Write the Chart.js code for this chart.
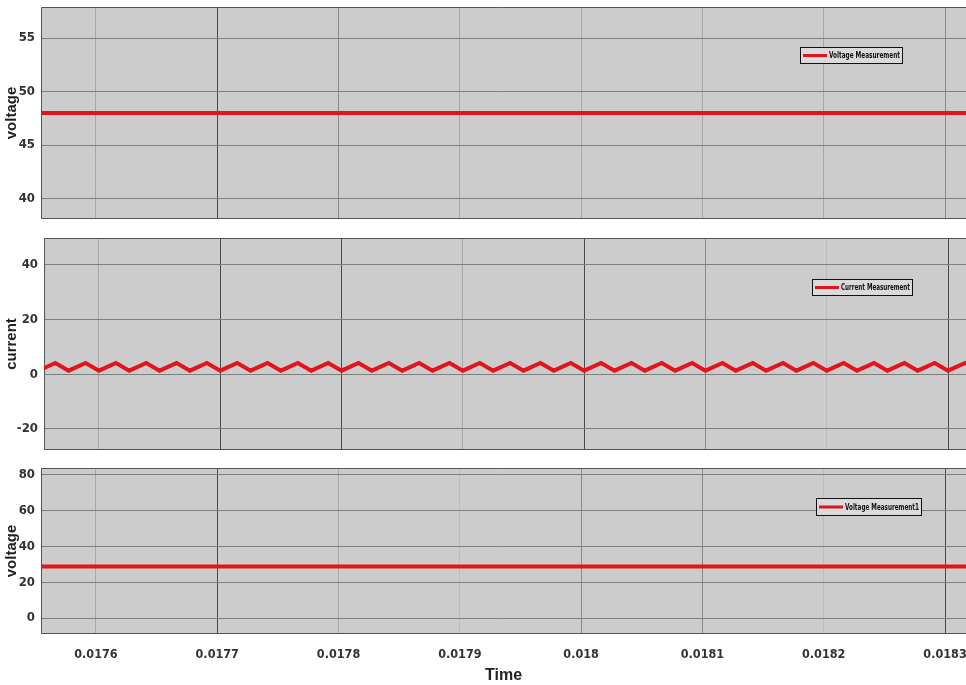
<!DOCTYPE html>
<html>
<head>
<meta charset="utf-8">
<script src="https://cdn.jsdelivr.net/npm/chart.js@4.4.0/dist/chart.umd.min.js"></script>
<style>
html, body { margin: 0; padding: 0; background: #fff; }
body { width: 966px; height: 685px; position: relative; overflow: hidden; }
.panel { position: absolute; left: 0; width: 966px; }
</style>
</head>
<body>
<div class="panel" style="top:0;height:229px"><canvas id="voltageChart"></canvas></div>
<div class="panel" style="top:229px;height:229px"><canvas id="currentChart"></canvas></div>
<div class="panel" style="top:458px;height:227px"><canvas id="voltage1Chart"></canvas></div>
<script>
// Time axis (s)
const xTickValues = [0.0176, 0.0177, 0.0178, 0.0179, 0.018, 0.0181, 0.0182, 0.0183];
const xTickLabels = ['0.0176', '0.0177', '0.0178', '0.0179', '0.018', '0.0181', '0.0182', '0.0183'];
const timeRange = [0.0175547, 0.0183173];
const midTimeRange = [0.0175547, 0.0183148];

// Voltage Measurement
const voltageTime = [0.0175547, 0.0183173];
const voltageValues = [48, 48];
const voltageTicks = [40, 45, 50, 55];

const currentTime = [
    0.017550, 0.017564, 0.017575, 0.017589, 0.017600, 0.017614, 0.017625, 0.017639,
    0.017650, 0.017664, 0.017675, 0.017689, 0.017700, 0.017714, 0.017725, 0.017739,
    0.017750, 0.017764, 0.017775, 0.017789, 0.017800, 0.017814, 0.017825, 0.017839,
    0.017850, 0.017864, 0.017875, 0.017889, 0.017900, 0.017914, 0.017925, 0.017939,
    0.017950, 0.017964, 0.017975, 0.017989, 0.018000, 0.018014, 0.018025, 0.018039,
    0.018050, 0.018064, 0.018075, 0.018089, 0.018100, 0.018114, 0.018125, 0.018139,
    0.018150, 0.018164, 0.018175, 0.018189, 0.018200, 0.018214, 0.018225, 0.018239,
    0.018250, 0.018264, 0.018275, 0.018289, 0.018300, 0.018314, 0.018325
];
const currentValues = [
    1.3, 4.1, 1.3, 4.1, 1.3, 4.1, 1.3, 4.1,
    1.3, 4.1, 1.3, 4.1, 1.3, 4.1, 1.3, 4.1,
    1.3, 4.1, 1.3, 4.1, 1.3, 4.1, 1.3, 4.1,
    1.3, 4.1, 1.3, 4.1, 1.3, 4.1, 1.3, 4.1,
    1.3, 4.1, 1.3, 4.1, 1.3, 4.1, 1.3, 4.1,
    1.3, 4.1, 1.3, 4.1, 1.3, 4.1, 1.3, 4.1,
    1.3, 4.1, 1.3, 4.1, 1.3, 4.1, 1.3, 4.1,
    1.3, 4.1, 1.3, 4.1, 1.3, 4.1, 1.3
];
const currentTicks = [-20, 0, 20, 40];

// Voltage Measurement1
const voltage1Time = [0.0175547, 0.0183173];
const voltage1Values = [28.7, 28.7];
const voltage1Ticks = [0, 20, 40, 60, 80];

const FONT = "'DejaVu Sans Condensed', 'Liberation Sans Narrow', sans-serif";
const DARK = '#4a4a4a', MED = '#8a8a8a', LIGHT = '#a9a9a9', FAINT = '#bcbcbc';

// Grey plot area with a dark frame
const framePlugin = {
    id: 'frame',
    beforeDraw(chart) {
        const a = chart.chartArea, ctx = chart.ctx;
        ctx.save();
        ctx.fillStyle = '#cccccc';
        ctx.fillRect(a.left, a.top, a.right - a.left, a.bottom - a.top);
        ctx.restore();
    },
    beforeDatasetsDraw(chart) {
        const a = chart.chartArea, ctx = chart.ctx;
        ctx.save();
        ctx.strokeStyle = '#555';
        ctx.lineWidth = 1;
        ctx.beginPath();
        ctx.moveTo(a.right, a.top + 0.5);
        ctx.lineTo(a.left + 0.5, a.top + 0.5);
        ctx.lineTo(a.left + 0.5, a.bottom - 0.5);
        ctx.lineTo(a.right, a.bottom - 0.5);
        ctx.stroke();
        ctx.restore();
    }
};

// Small boxed legend inside the plot
const boxLegendPlugin = {
    id: 'boxLegend',
    afterDraw(chart, args, opts) {
        const a = chart.chartArea, ctx = chart.ctx;
        const x = a.left + opts.left, y = a.top + opts.top;
        const mid = y + opts.height / 2;
        ctx.save();
        ctx.fillStyle = '#dadada';
        ctx.fillRect(x, y, opts.width, opts.height);
        ctx.strokeStyle = '#111';
        ctx.lineWidth = 1;
        ctx.strokeRect(x + 0.5, y + 0.5, opts.width, opts.height);
        ctx.strokeStyle = '#e3151c';
        ctx.lineWidth = 3;
        ctx.beginPath();
        ctx.moveTo(x + 3, mid + 0.5);
        ctx.lineTo(x + 27, mid + 0.5);
        ctx.stroke();

        // squeeze the label into the box like the narrow original
        const label = chart.data.datasets[0].label;
        ctx.fillStyle = '#111';
        ctx.font = 'bold 8px ' + FONT;
        ctx.textBaseline = 'middle';
        const room = opts.width - 31;
        const w = ctx.measureText(label).width;
        const sx = w > room ? room / w : 1;
        ctx.translate(x + 29, mid + 1);
        ctx.scale(sx, 1);
        ctx.fillText(label, 0, 0);
        ctx.restore();
    }
};

function makePanel(id, cfg) {
    const points = cfg.xs.map((x, i) => ({ x: x, y: cfg.ys[i] }));
    return new Chart(document.getElementById(id), {
        type: 'line',
        data: {
            datasets: [{
                label: cfg.label,
                data: points,
                borderColor: '#e3151c',
                borderWidth: 4,
                pointRadius: 0,
                tension: 0,
                fill: false
            }]
        },
        plugins: [framePlugin, boxLegendPlugin],
        options: {
            responsive: true,
            maintainAspectRatio: false,
            animation: false,
            layout: { padding: { top: cfg.padTop, right: 0, left: 0, bottom: 0 } },
            plugins: {
                legend: { display: false },
                tooltip: { enabled: false },
                boxLegend: cfg.legendBox
            },
            scales: {
                x: {
                    type: 'linear',
                    min: cfg.xMin,
                    max: cfg.xMax,
                    afterBuildTicks: s => { s.ticks = xTickValues.map(v => ({ value: v })); },
                    afterFit: s => {
                        s.height = cfg.xHeight;
                        s.paddingLeft = 0;
                        s.paddingRight = 0;
                    },
                    grid: {
                        color: ctx => cfg.gridColors[ctx.index] || LIGHT,
                        lineWidth: 1,
                        drawTicks: false
                    },
                    border: { display: false },
                    ticks: {
                        display: cfg.showX,
                        padding: 13,
                        color: '#333',
                        font: { family: FONT, size: 12.5, weight: 'bold' },
                        maxRotation: 0,
                        autoSkip: false,
                        callback: (v, i) => xTickLabels[i]
                    },
                    title: {
                        display: cfg.showX,
                        text: 'Time',
                        color: '#222',
                        padding: { top: 0, bottom: 0 },
                        font: { family: 'Liberation Sans, Arial, sans-serif', size: 16, weight: 'bold' }
                    }
                },
                y: {
                    min: cfg.yMin,
                    max: cfg.yMax,
                    afterBuildTicks: s => { s.ticks = cfg.yTicks.map(v => ({ value: v })); },
                    afterFit: s => {
                        s.width = cfg.axisWidth;
                        s.paddingTop = 0;
                        s.paddingBottom = 0;
                    },
                    grid: { color: '#7f7f7f', lineWidth: 1, drawTicks: false },
                    border: { display: false },
                    ticks: {
                        padding: 6,
                        color: '#333',
                        font: { family: FONT, size: 13, weight: 'bold' },
                        callback: v => String(v)
                    },
                    title: {
                        display: true,
                        text: cfg.yTitle,
                        color: '#222',
                        padding: { top: 3, bottom: 0 },
                        font: { family: 'Liberation Sans, Arial, sans-serif', size: 15, weight: 'bold' }
                    }
                }
            }
        }
    });
}

makePanel('voltageChart', {
    label: 'Voltage Measurement',
    xs: voltageTime, ys: voltageValues,
    yTicks: voltageTicks, yMin: 38.1, yMax: 57.9, yTitle: 'voltage',
    xMin: timeRange[0], xMax: timeRange[1],
    axisWidth: 41, padTop: 7, xHeight: 10, showX: false,
    gridColors: [LIGHT, DARK, MED, LIGHT, LIGHT, LIGHT, LIGHT, MED],
    legendBox: { left: 759, top: 40, width: 102, height: 16 }
});

makePanel('currentChart', {
    label: 'Current Measurement',
    xs: currentTime, ys: currentValues,
    yTicks: currentTicks, yMin: -27.7, yMax: 49.8, yTitle: 'current',
    xMin: midTimeRange[0], xMax: midTimeRange[1],
    axisWidth: 44, padTop: 9, xHeight: 8, showX: false,
    gridColors: [LIGHT, DARK, DARK, LIGHT, DARK, MED, FAINT, DARK],
    legendBox: { left: 768, top: 41, width: 100, height: 16 }
});

makePanel('voltage1Chart', {
    label: 'Voltage Measurement1',
    xs: voltage1Time, ys: voltage1Values,
    yTicks: voltage1Ticks, yMin: -8.9, yMax: 83.7, yTitle: 'voltage',
    xMin: timeRange[0], xMax: timeRange[1],
    axisWidth: 41, padTop: 10, xHeight: 51, showX: true,
    gridColors: [LIGHT, DARK, LIGHT, FAINT, MED, MED, FAINT, DARK],
    legendBox: { left: 775, top: 30, width: 105, height: 17 }
});
</script>
</body>
</html>
